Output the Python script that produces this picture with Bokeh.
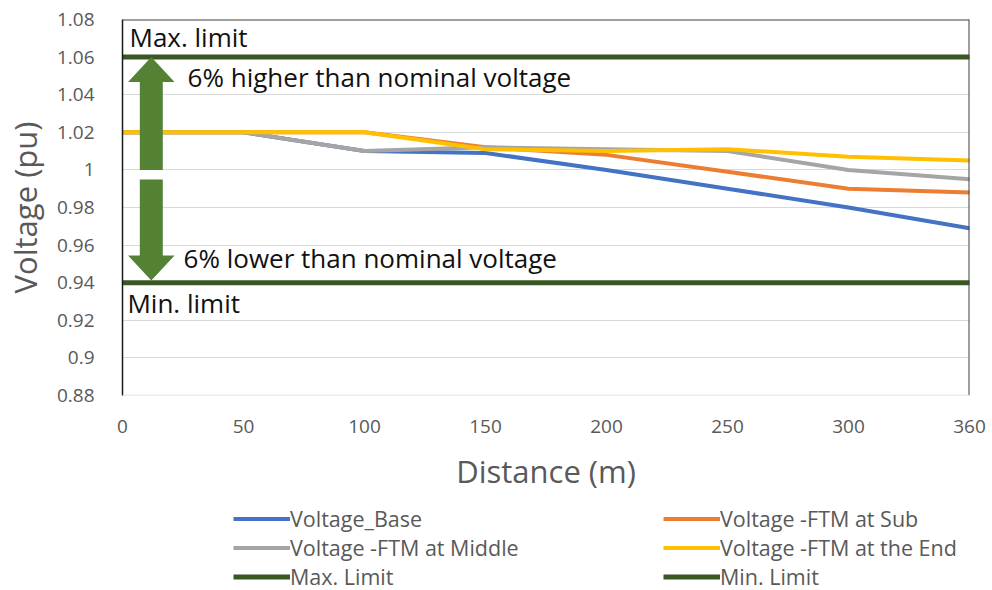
from bokeh.plotting import figure
from bokeh.layouts import column
from bokeh.models import (ColumnDataSource, FixedTicker, CustomJSTickFormatter, Span,
                          Legend, LegendItem, Range1d)
from bokeh.core.properties import value
from bokeh.embed import file_html
from bokeh.resources import INLINE

# ---------------- data ----------------
distance_labels = ["0", "50", "100", "150", "200", "250", "300", "360"]
voltage_base = [1.02, 1.02, 1.01, 1.009, 1.000, 0.990, 0.980, 0.969]
voltage_ftm_sub = [1.02, 1.02, 1.02, 1.012, 1.008, 0.999, 0.990, 0.988]
voltage_ftm_middle = [1.02, 1.02, 1.01, 1.012, 1.011, 1.010, 1.000, 0.995]
voltage_ftm_end = [1.02, 1.02, 1.02, 1.011, 1.010, 1.011, 1.007, 1.005]
max_limit = [1.06, 1.06, 1.06, 1.06, 1.06, 1.06, 1.06, 1.06]
min_limit = [0.94, 0.94, 0.94, 0.94, 0.94, 0.94, 0.94, 0.94]
y_ticks = [0.88, 0.90, 0.92, 0.94, 0.96, 0.98, 1.00, 1.02, 1.04, 1.06, 1.08]

series_names = ["Voltage_Base", "Voltage -FTM at Sub", "Voltage -FTM at Middle",
                "Voltage -FTM at the End", "Max. Limit", "Min. Limit"]

# ---------------- styles ----------------
FONT = "Open Sans"
GREY_TXT = "#595959"
COLORS = ["#4472C4", "#ED7D31", "#A5A5A5", "#FFC000", "#385723", "#385723"]
WIDTHS = [4, 4, 4, 4, 5, 5]

x_idx = list(range(len(distance_labels)))
src = ColumnDataSource(dict(
    x=x_idx, base=voltage_base, sub=voltage_ftm_sub, mid=voltage_ftm_middle,
    end=voltage_ftm_end, vmax=max_limit, vmin=min_limit))
cols = ["base", "sub", "mid", "end", "vmax", "vmin"]

p = figure(width=992, height=500, output_backend="svg", toolbar_location=None,
           x_range=Range1d(x_idx[0], x_idx[-1]), y_range=Range1d(y_ticks[0], y_ticks[-1]),
           min_border_left=122, min_border_right=23, min_border_top=19,
           min_border_bottom=105)
p.outline_line_color = None
p.background_fill_color = "white"
p.border_fill_color = "white"

# grid
p.xgrid.grid_line_color = None
p.ygrid.grid_line_color = "#D9D9D9"
p.ygrid.grid_line_width = 1
p.yaxis.ticker = FixedTicker(ticks=y_ticks)
p.xaxis.ticker = FixedTicker(ticks=x_idx)
p.xaxis.major_label_overrides = {i: lab for i, lab in zip(x_idx, distance_labels)}
p.yaxis.formatter = CustomJSTickFormatter(
    code="var s = tick.toFixed(2); s = s.replace(/0+$/, ''); return s.replace(/\\.$/, '');")

for ax in (p.xaxis, p.yaxis):
    ax.major_tick_line_color = None
    ax.minor_tick_line_color = None
    ax.major_label_text_font = FONT
    ax.major_label_text_font_size = "19px"
    ax.major_label_text_color = GREY_TXT
    ax.axis_label_text_font = FONT
    ax.axis_label_text_font_size = "31px"
    ax.axis_label_text_color = GREY_TXT
    ax.axis_label_text_font_style = "normal"

p.xaxis.axis_line_color = None
p.xaxis.major_label_standoff = 18
p.xaxis.axis_label = "Distance (m)"
p.xaxis.axis_label_standoff = 14
p.yaxis.axis_line_color = "#1a1a1a"
p.yaxis.axis_line_width = 1.5
p.yaxis.major_label_standoff = 22
p.yaxis.axis_label = "Voltage (pu)"
p.yaxis.axis_label_standoff = 8

# borders of plot area
p.add_layout(Span(location=y_ticks[-1], dimension="width", line_color="#404040", line_width=2))
p.add_layout(Span(location=x_idx[-1], dimension="height", line_color="#404040", line_width=2))
p.add_layout(Span(location=y_ticks[0], dimension="width", line_color="#D9D9D9", line_width=1.5))

# data lines
for c, col, w in zip(cols, COLORS, WIDTHS):
    p.line("x", c, source=src, line_color=col, line_width=w, line_join="round",
           line_cap="round")

# arrows (annotation shapes)
AX = 0.238       # arrow centre in axis index units
HW = 0.192       # head half-width
SW = 0.095       # shaft half-width
up_tip, up_head, up_bot = max_limit[0], 1.0467, 1.0
dn_top, dn_head, dn_tip = 0.9949, 0.9545, 0.9412
ARROW_C = "#548235"
p.patch([AX, AX + HW, AX + SW, AX + SW, AX - SW, AX - SW, AX - HW],
        [up_tip, up_head, up_head, up_bot, up_bot, up_head, up_head],
        fill_color=ARROW_C, line_color=None)
p.patch([AX, AX + HW, AX + SW, AX + SW, AX - SW, AX - SW, AX - HW],
        [dn_tip, dn_head, dn_head, dn_top, dn_top, dn_head, dn_head],
        fill_color=ARROW_C, line_color=None)

# text annotations
notes = ColumnDataSource(dict(
    x=[0.058, 0.538, 0.505, 0.041],
    y=[1.0706, 1.0495, 0.9531, 0.9291],
    t=["Max. limit", "6% higher than nominal voltage", "6% lower than nominal voltage",
       "Min. limit"]))
p.text("x", "y", text="t", source=notes, text_font=value(FONT), text_font_size="26px",
       text_color="#111111", text_baseline="alphabetic", text_align="left")

# ---------------- legend strip ----------------
lg = figure(width=992, height=90, output_backend="svg", toolbar_location=None,
            x_axis_type=None, y_axis_type=None, x_range=Range1d(0, 1), y_range=Range1d(50, 51),
            min_border_left=0, min_border_right=0, min_border_top=0, min_border_bottom=0)
lg.outline_line_color = None
lg.xgrid.grid_line_color = None
lg.ygrid.grid_line_color = None
leg_r = {}
for n, c, col, w in zip(series_names, cols, COLORS, WIDTHS):
    leg_r[n] = lg.line("x", c, source=src, line_color=col, line_width=w)
# bokeh fills legend columns first -> order so rows read like the reference
order = [series_names[0], series_names[2], series_names[4],
         series_names[1], series_names[3], series_names[5]]
items = [LegendItem(label=n, renderers=[leg_r[n]]) for n in order]
legend = Legend(items=items, ncols=2, location=(111, -1),
                glyph_width=57, glyph_height=29, label_standoff=0, label_width=373,
                label_height=29, spacing=0, padding=0, margin=0,
                label_text_font=FONT, label_text_font_size="21.5px",
                label_text_color=GREY_TXT, border_line_color=None,
                background_fill_alpha=0)
lg.add_layout(legend, "center")

layout = column(p, lg, spacing=0)
open("out.html", "w").write(file_html(layout, INLINE))
